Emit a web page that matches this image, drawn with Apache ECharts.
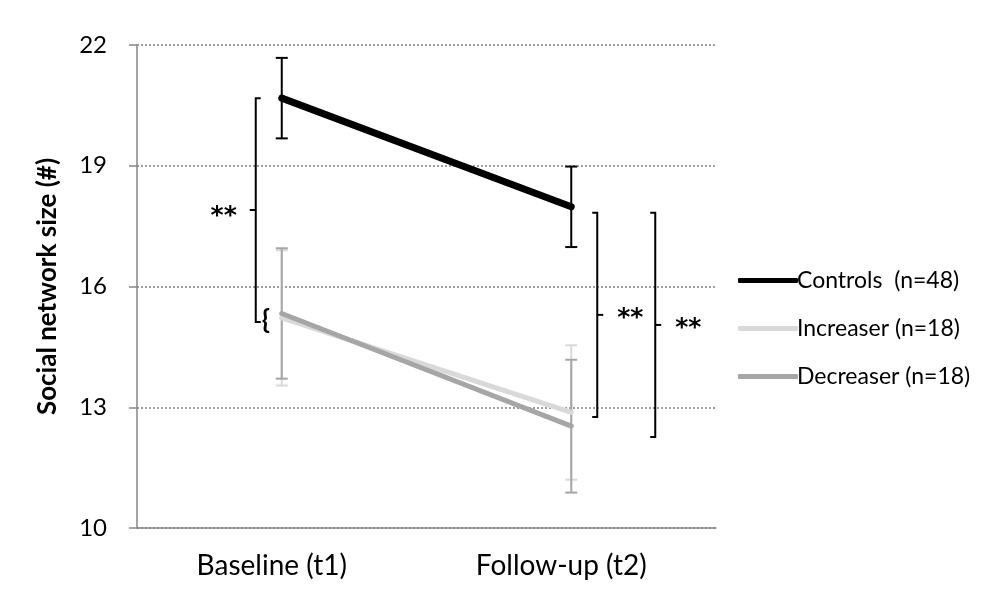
<!DOCTYPE html>
<html><head><meta charset="utf-8">
<script src="https://cdn.jsdelivr.net/npm/echarts@6/dist/echarts.min.js"></script>
<style>html,body{margin:0;padding:0;background:#fff}#c{width:1004px;height:602px}</style>
</head><body><div id="c"></div>
<script>
const categories = ['Baseline (t1)', 'Follow-up (t2)'];
const seriesNames = ['Controls  (n=48)', 'Increaser (n=18)', 'Decreaser (n=18)'];
const controls = [20.68, 17.98];
const controlsErr = [1.0, 1.0];
const increaser = [15.22, 12.87];
const increaserErr = [1.68, 1.67];
const decreaser = [15.33, 12.53];
const decreaserErr = [1.62, 1.65];
const yTicks = [10, 13, 16, 19, 22];
// significance brackets: category index, top value, bottom value, label
const bracketCats = [0, 1, 1];
const bracketTop = [20.68, 17.83, 17.83];
const bracketBottom = [15.12, 12.76, 12.26];
const bracketLabels = ['**', '**', '**'];

const FONT = 'Lato';
const colors = ['#000000', '#d9d9d9', '#a6a6a6'];
const widths = [7, 5, 5];
const means = [controls, increaser, decreaser];
const errs = [controlsErr, increaserErr, decreaserErr];

const chart = echarts.init(document.getElementById('c'), null, {renderer: 'canvas'});

function errorSeries(k) {
  return {
    type: 'custom',
    name: seriesNames[k] + ' err',
    z: 2,
    silent: true,
    data: means[k].map((m, i) => [i, m - errs[k][i], m + errs[k][i]]),
    encode: {x: 0, y: [1, 2]},
    renderItem: function (params, api) {
      const lo = api.coord([api.value(0), api.value(1)]);
      const hi = api.coord([api.value(0), api.value(2)]);
      const hw = 6;
      const st = {stroke: colors[k], lineWidth: 2, fill: null};
      return {type: 'group', children: [
        {type: 'line', shape: {x1: lo[0], y1: lo[1], x2: hi[0], y2: hi[1]}, style: st},
        {type: 'line', shape: {x1: lo[0] - hw, y1: lo[1], x2: lo[0] + hw, y2: lo[1]}, style: st},
        {type: 'line', shape: {x1: hi[0] - hw, y1: hi[1], x2: hi[0] + hw, y2: hi[1]}, style: st}
      ]};
    }
  };
}

const bracketOffsets = [-26, 26, 84];
const bracketDir = [-1, 1, 1];

const bracketSeries = {
  type: 'custom',
  name: 'brackets',
  z: 5,
  silent: true,
  data: bracketCats.map((c, i) => [c, bracketTop[i], bracketBottom[i], i]),
  encode: {x: 0, y: [1, 2]},
  renderItem: function (params, api) {
    const idx = api.value(3);
    const top = api.coord([api.value(0), api.value(1)]);
    const bot = api.coord([api.value(0), api.value(2)]);
    const x = top[0] + bracketOffsets[idx];
    const d = bracketDir[idx];
    const midY = (top[1] + bot[1]) / 2;
    const st = {stroke: '#000', lineWidth: 2, fill: null};
    const children = [
      {type: 'polyline', shape: {points: [[x - d * 5, top[1]], [x, top[1]], [x, bot[1]], [x - d * 5, bot[1]]]}, style: st},
      {type: 'line', shape: {x1: x, y1: midY, x2: x + d * 6, y2: midY}, style: st},
      {type: 'text', style: {text: bracketLabels[idx], x: d < 0 ? x - 19 : x + 20, y: midY + 6 - (idx === 1 ? 2 : 0) - (idx === 2 ? 2 : 0),
        align: d < 0 ? 'right' : 'left', verticalAlign: 'middle', font: 'bold 25px "DejaVu Sans"', fill: '#000'}}
    ];
    if (idx === 0) {
      children.push({type: 'text', style: {text: '{', x: x + 6, y: bot[1] - 2, align: 'left', verticalAlign: 'middle',
        font: 'bold 27px ' + FONT, fill: '#000'}});
    }
    return {type: 'group', children: children};
  }
};

const lineSeries = means.map((m, k) => ({
  type: 'line',
  name: seriesNames[k],
  data: m,
  z: 3 + (k === 0 ? 1 : 0),
  symbol: 'none',
  silent: true,
  color: colors[k],
  lineStyle: {color: colors[k], width: widths[k], cap: 'round'}
}));

const option = {
  animation: false,
  backgroundColor: '#fff',
  grid: {left: 137, right: 288, top: 45, bottom: 74},
  legend: {
    orient: 'vertical',
    left: 733,
    top: 264,
    itemGap: 25,
    itemWidth: 60,
    itemHeight: 5,
    icon: 'roundRect',
    selectedMode: false,
    textStyle: {fontFamily: FONT, fontSize: 23, color: '#000', padding: [0, 0, 0, -6]},
    data: seriesNames.map((n, k) => ({name: n, itemStyle: {color: colors[k]}}))
  },
  xAxis: {
    type: 'category',
    data: categories,
    boundaryGap: true,
    axisLine: {lineStyle: {color: '#868686', width: 1.5}},
    axisTick: {show: false},
    axisLabel: {fontFamily: FONT, fontSize: 28, color: '#000', margin: 24, padding: [0, 20, 0, 0]}
  },
  yAxis: {
    type: 'value',
    min: yTicks[0],
    max: yTicks[yTicks.length - 1],
    interval: yTicks[1] - yTicks[0],
    name: 'Social network size (#)',
    nameLocation: 'middle',
    nameGap: 76,
    nameRotate: 90,
    nameTextStyle: {fontFamily: FONT, fontSize: 26, fontWeight: 'bold', color: '#000'},
    axisLine: {show: true, lineStyle: {color: '#868686', width: 1.5}},
    axisTick: {show: true, length: 8, lineStyle: {color: '#868686', width: 1.5}},
    axisLabel: {fontFamily: FONT, fontSize: 24, color: '#000', margin: 30},
    splitLine: {show: true, lineStyle: {color: '#7f7f7f', width: 1.5, type: [2, 2]}}
  },
  series: [errorSeries(1), errorSeries(2), errorSeries(0)].concat(lineSeries).concat([bracketSeries])
};
chart.setOption(option);
</script></body></html>
